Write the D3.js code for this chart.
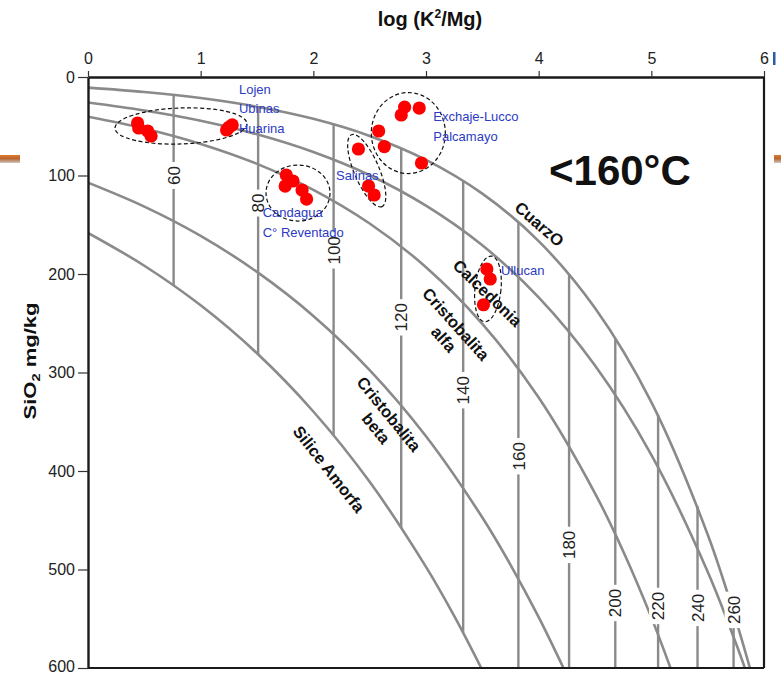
<!DOCTYPE html>
<html>
<head>
<meta charset="utf-8">
<script src="https://cdn.jsdelivr.net/npm/d3@7"></script>
<style>
  html, body { margin: 0; padding: 0; background: #fff; }
  svg { display: block; font-family: "Liberation Sans", Arial, sans-serif; }
</style>
</head>
<body>
<svg id="chart" width="781" height="674"></svg>
<script>
// ---- axes ----
const xTicks = [0, 1, 2, 3, 4, 5, 6];          // log(K²/Mg)
const yTicks = [0, 100, 200, 300, 400, 500, 600]; // SiO2 mg/kg

// ---- silica solubility curves, sampled along log(K²/Mg) ----
const cuarzoX      = [0, 0.5, 1, 1.5, 2, 2.5, 3, 3.5, 4, 4.5, 5, 5.5, 5.75, 5.875];
const cuarzoSiO2   = [10.8, 15.2, 21.4, 30.2, 42.5, 59.8, 84.1, 118.4, 166.6, 234.6, 330.1, 464.5, 551.1, 600];
const calcedoniaX    = [0, 0.5, 1, 1.5, 2, 2.5, 3, 3.5, 4, 4.5, 5, 5.5, 5.75, 5.83];
const calcedoniaSiO2 = [25.9, 34.0, 44.4, 58.2, 76.2, 99.7, 130.6, 170.9, 223.8, 293.0, 383.6, 502.2, 574.7, 600];
const alfaX    = [0, 0.5, 1, 1.5, 2, 2.5, 3, 3.5, 4, 4.5, 4.75, 5, 5.17];
const alfaSiO2 = [40.3, 52.3, 68.0, 88.2, 114.5, 148.7, 193.1, 250.6, 325.4, 422.6, 481.4, 548.6, 600];
const betaX    = [0, 0.5, 1, 1.5, 2, 2.5, 3, 3.5, 3.75, 4, 4.22];
const betaSiO2 = [107.3, 131.6, 161.3, 197.9, 242.6, 297.5, 364.7, 447.2, 495.2, 548.4, 600];
const amorfaX    = [0, 0.5, 1, 1.5, 2, 2.5, 3, 3.25, 3.49];
const amorfaSiO2 = [158.3, 191.6, 231.8, 280.5, 339.6, 411.0, 497.4, 547.2, 600];

// ---- isotherms (°C) ----
const isoTemp   = [60, 80, 100, 120, 140, 160, 180, 200, 220, 240, 260];
const isoX      = [0.76, 1.51, 2.18, 2.78, 3.33, 3.82, 4.27, 4.68, 5.06, 5.41, 5.73];
const isoTop    = [18.2, 30.4, 48.1, 72.5, 105.1, 147.2, 200.1, 265.0, 343.1, 435.6, 542.9];
const isoBottom = [211.8, 281.9, 364.0, 457.8, 563.3, 600, 600, 600, 600, 600, 600];
const isoLabelSiO2 = [100, 128, 176, 244, 318, 385, 475, 534, 537, 539, 541];

// ---- water samples ----
const sampleLogK2Mg = [0.44, 0.45, 0.53, 0.56, 1.23, 1.28, 1.25,
                       1.76, 1.75, 1.82, 1.90, 1.94,
                       2.40, 2.49, 2.54,
                       2.78, 2.81, 2.94, 2.58, 2.63, 2.96,
                       3.54, 3.57, 3.51];
const sampleSiO2    = [46.7, 51.8, 54.8, 59.9, 53.8, 48.7, 51.0,
                       99.5, 110.7, 105.6, 114.7, 123.9,
                       73.1, 110.7, 119.8,
                       38.6, 30.5, 31.5, 54.8, 70.6, 87.3,
                       194.9, 205.1, 231.2];

// ---- sampling areas: names ----
const areaNames = [["Lojen", "Ubinas", "Huarina"], ["Candagua", "C° Reventado"], ["Salinas"],
                   ["Exchaje-Lucco", "Palcamayo"], ["Ullucan"]];

const svg = d3.select("#chart");
const x = d3.scaleLinear().domain([0, 6]).range([88, 764]);
const y = d3.scaleLinear().domain([0, 600]).range([77, 668]);

// narrow face detection (falls back to compressed regular glyphs)
const probe = svg.append("text").attr("font-size", 100).text("Calcedonia 120")
  .attr("font-family", '"Liberation Sans Narrow"');
const wNarrow = probe.node().getComputedTextLength();
probe.attr("font-family", '"Liberation Sans"');
const wRegular = probe.node().getComputedTextLength();
probe.remove();
const hasNarrow = wNarrow < wRegular * 0.9;
const NARROW = hasNarrow ? '"Liberation Sans Narrow", "Arial Narrow", sans-serif'
                         : '"Liberation Sans", Arial, sans-serif';
function narrow(sel) {
  if (hasNarrow) return;
  sel.each(function () {
    const L = this.getComputedTextLength();
    d3.select(this).attr("textLength", L * 0.82).attr("lengthAdjust", "spacingAndGlyphs");
  });
}

// slide decorations at the edges
const defs = svg.append("defs");
const grad = defs.append("linearGradient").attr("id", "bar").attr("x1", 0).attr("y1", 0).attr("x2", 0).attr("y2", 1);
grad.append("stop").attr("offset", "0%").attr("stop-color", "#e07a2c");
grad.append("stop").attr("offset", "45%").attr("stop-color", "#b8652e");
grad.append("stop").attr("offset", "100%").attr("stop-color", "#cfc8c2");
svg.append("rect").attr("x", 0).attr("y", 155).attr("width", 20).attr("height", 8).attr("fill", "url(#bar)");
svg.append("rect").attr("x", 774).attr("y", 155).attr("width", 7).attr("height", 8).attr("fill", "url(#bar)");
svg.append("rect").attr("x", 773).attr("y", 52).attr("width", 2.5).attr("height", 13).attr("fill", "#2a5aa8");

defs.append("clipPath").attr("id", "plot")
  .append("rect").attr("x", x(0)).attr("y", y(0)).attr("width", x(6) - x(0)).attr("height", y(600) - y(0));

const plot = svg.append("g").attr("clip-path", "url(#plot)");
const GRAY = "#8a8a8a";

// solubility curves
const curveSets = [[cuarzoX, cuarzoSiO2], [calcedoniaX, calcedoniaSiO2], [alfaX, alfaSiO2],
                   [betaX, betaSiO2], [amorfaX, amorfaSiO2]];
const line = d3.line().x(d => x(d[0])).y(d => y(d[1])).curve(d3.curveCatmullRom.alpha(0.5));
plot.selectAll("path.sol").data(curveSets).join("path")
  .attr("class", "sol")
  .attr("d", ([xs, ys]) => line(xs.map((v, i) => [v, ys[i]])))
  .attr("fill", "none").attr("stroke", GRAY).attr("stroke-width", 2.6);

// isotherms
plot.selectAll("line.iso").data(isoTemp).join("line")
  .attr("class", "iso")
  .attr("x1", (d, i) => x(isoX[i])).attr("x2", (d, i) => x(isoX[i]))
  .attr("y1", (d, i) => y(isoTop[i])).attr("y2", (d, i) => y(isoBottom[i]))
  .attr("stroke", GRAY).attr("stroke-width", 2.4);

const isoLab = plot.selectAll("g.isolab").data(isoTemp).join("g")
  .attr("class", "isolab")
  .attr("transform", (d, i) => `translate(${x(isoX[i])},${y(isoLabelSiO2[i])}) rotate(-90)`);
const bgRect = isoLab.append("rect").attr("fill", "#fff");
const isoText = isoLab.append("text")
  .attr("text-anchor", "middle").attr("dy", "0.36em")
  .attr("font-family", NARROW).attr("font-size", 17).attr("fill", "#222")
  .text(d => d);
narrow(isoText);
bgRect.each(function (d, i) {
  const t = isoText.nodes()[i];
  const L = hasNarrow ? t.getComputedTextLength() : t.getComputedTextLength() * 0.82;
  d3.select(this).attr("x", -L / 2 - 4).attr("y", -9).attr("width", L + 8).attr("height", 18);
});

// curve names
const curveLabels = [
  { lines: ["CuarzO"], at: [4.007, 149.2], angle: 41 },
  { lines: ["Calcedonia"], at: [3.546, 219.3], angle: 44 },
  { lines: ["Cristobalita", "alfa"], at: [3.266, 250.8], angle: 48 },
  { lines: ["Cristobalita", "beta"], at: [2.672, 342.1], angle: 51 },
  { lines: ["Silice Amorfa"], at: [2.139, 398.0], angle: 52 }
];
curveLabels.forEach(c => {
  const g = svg.append("g").attr("transform", `translate(${x(c.at[0])},${y(c.at[1])}) rotate(${c.angle})`);
  c.lines.forEach((t, k) => {
    const tx = g.append("text").attr("x", k ? 3 : 0).attr("y", k * 19).attr("dy", "0.36em")
      .attr("text-anchor", "middle").attr("font-family", NARROW).attr("font-weight", "bold")
      .attr("font-size", 16.5).attr("fill", "#111").text(t);
    narrow(tx);
  });
});

// sampling area outlines
const areaShapes = [
  { c: [0.825, 49.7], rx: 66, ry: 18, angle: -2 },
  { c: [1.864, 117.8], rx: 32, ry: 28, angle: 0 },
  { c: [2.474, 95.1], rx: 39, ry: 12.5, angle: 67 },
  { c: [2.843, 56.9], rx: 37, ry: 40.5, angle: 0 },
  { c: [3.550, 215.2], rx: 13, ry: 33, angle: 6 }
];
svg.selectAll("ellipse.area").data(areaShapes).join("ellipse")
  .attr("class", "area")
  .attr("transform", d => `translate(${x(d.c[0])},${y(d.c[1])}) rotate(${d.angle})`)
  .attr("rx", d => d.rx).attr("ry", d => d.ry)
  .attr("fill", "none").attr("stroke", "#111").attr("stroke-width", 1.2)
  .attr("stroke-dasharray", "4,2.5");

// samples
svg.selectAll("circle.pt").data(sampleLogK2Mg).join("circle")
  .attr("class", "pt")
  .attr("cx", d => x(d)).attr("cy", (d, i) => y(sampleSiO2[i]))
  .attr("r", 6.6).attr("fill", "#ff0000");

// area names
const areaNameAt = [[1.340, 16.8], [1.551, 142.6], [2.201, 104.1], [3.065, 44.7], [3.666, 201.5]];
const nameStep = [19.7, 19.8, 0, 20.3, 0];
areaNames.forEach((names, a) => {
  names.forEach((n, k) => {
    const t = svg.append("text")
      .attr("x", x(areaNameAt[a][0]))
      .attr("y", y(areaNameAt[a][1]) + k * nameStep[a])
      .attr("font-family", NARROW).attr("font-size", 13).attr("fill", "#2b3bc4").text(n);
    narrow(t);
  });
});

// frame
svg.append("line").attr("x1", x(6)).attr("x2", x(6)).attr("y1", y(0)).attr("y2", y(600))
  .attr("stroke", "#1a1a1a").attr("stroke-width", 2.2);
svg.append("line").attr("x1", x(0)).attr("x2", x(6)).attr("y1", y(600)).attr("y2", y(600))
  .attr("stroke", "#1a1a1a").attr("stroke-width", 2.2);

// axes
const gx = svg.append("g").attr("transform", `translate(0,${y(0)})`)
  .call(d3.axisTop(x).tickValues(xTicks).tickFormat(d3.format("d")).tickSize(6).tickSizeOuter(0).tickPadding(7));
const gy = svg.append("g").attr("transform", `translate(${x(0)},0)`)
  .call(d3.axisLeft(y).tickValues(yTicks).tickFormat(d3.format("d")).tickSize(10).tickSizeOuter(0).tickPadding(3));
[gx, gy].forEach(g => {
  g.select(".domain").attr("stroke", "#1a1a1a").attr("stroke-width", 2.4);
  g.selectAll(".tick line").attr("stroke", "#333").attr("stroke-width", 1.2);
  const t = g.selectAll(".tick text").attr("font-family", NARROW).attr("font-size", 16).attr("fill", "#222");
  narrow(t);
});
// keep the lowest value label inside the page
gy.selectAll(".tick text").filter(d => d === 600).attr("dy", "0.2em");

// axis titles
const xt = svg.append("text").attr("x", 430).attr("y", 25.5).attr("text-anchor", "middle")
  .attr("font-family", NARROW).attr("font-weight", "bold").attr("font-size", 20).attr("fill", "#111");
xt.append("tspan").text("log (K");
xt.append("tspan").attr("font-size", 12).attr("dy", -8).text("2");
xt.append("tspan").attr("dy", 8).text("/Mg)");
if (!hasNarrow) {
  const L = xt.node().getComputedTextLength();
  xt.attr("textLength", L * 0.82).attr("lengthAdjust", "spacingAndGlyphs");
}

const yt = svg.append("text").attr("transform", "translate(36,361) rotate(-90)").attr("text-anchor", "middle")
  .attr("font-family", '"Liberation Sans", Arial, sans-serif').attr("font-weight", "bold")
  .attr("font-size", 16.5).attr("fill", "#111");
yt.append("tspan").text("SiO");
yt.append("tspan").attr("font-size", 11).attr("dy", 4).text("2");
yt.append("tspan").attr("dy", -4).text(" mg/kg");
yt.attr("textLength", 117).attr("lengthAdjust", "spacingAndGlyphs");

// temperature range note
const note = svg.append("text").attr("x", 549).attr("y", 185)
  .attr("font-family", NARROW).attr("font-weight", "bold").attr("font-size", 42).attr("fill", "#111")
  .text("<160°C");
narrow(note);
</script>
</body>
</html>
